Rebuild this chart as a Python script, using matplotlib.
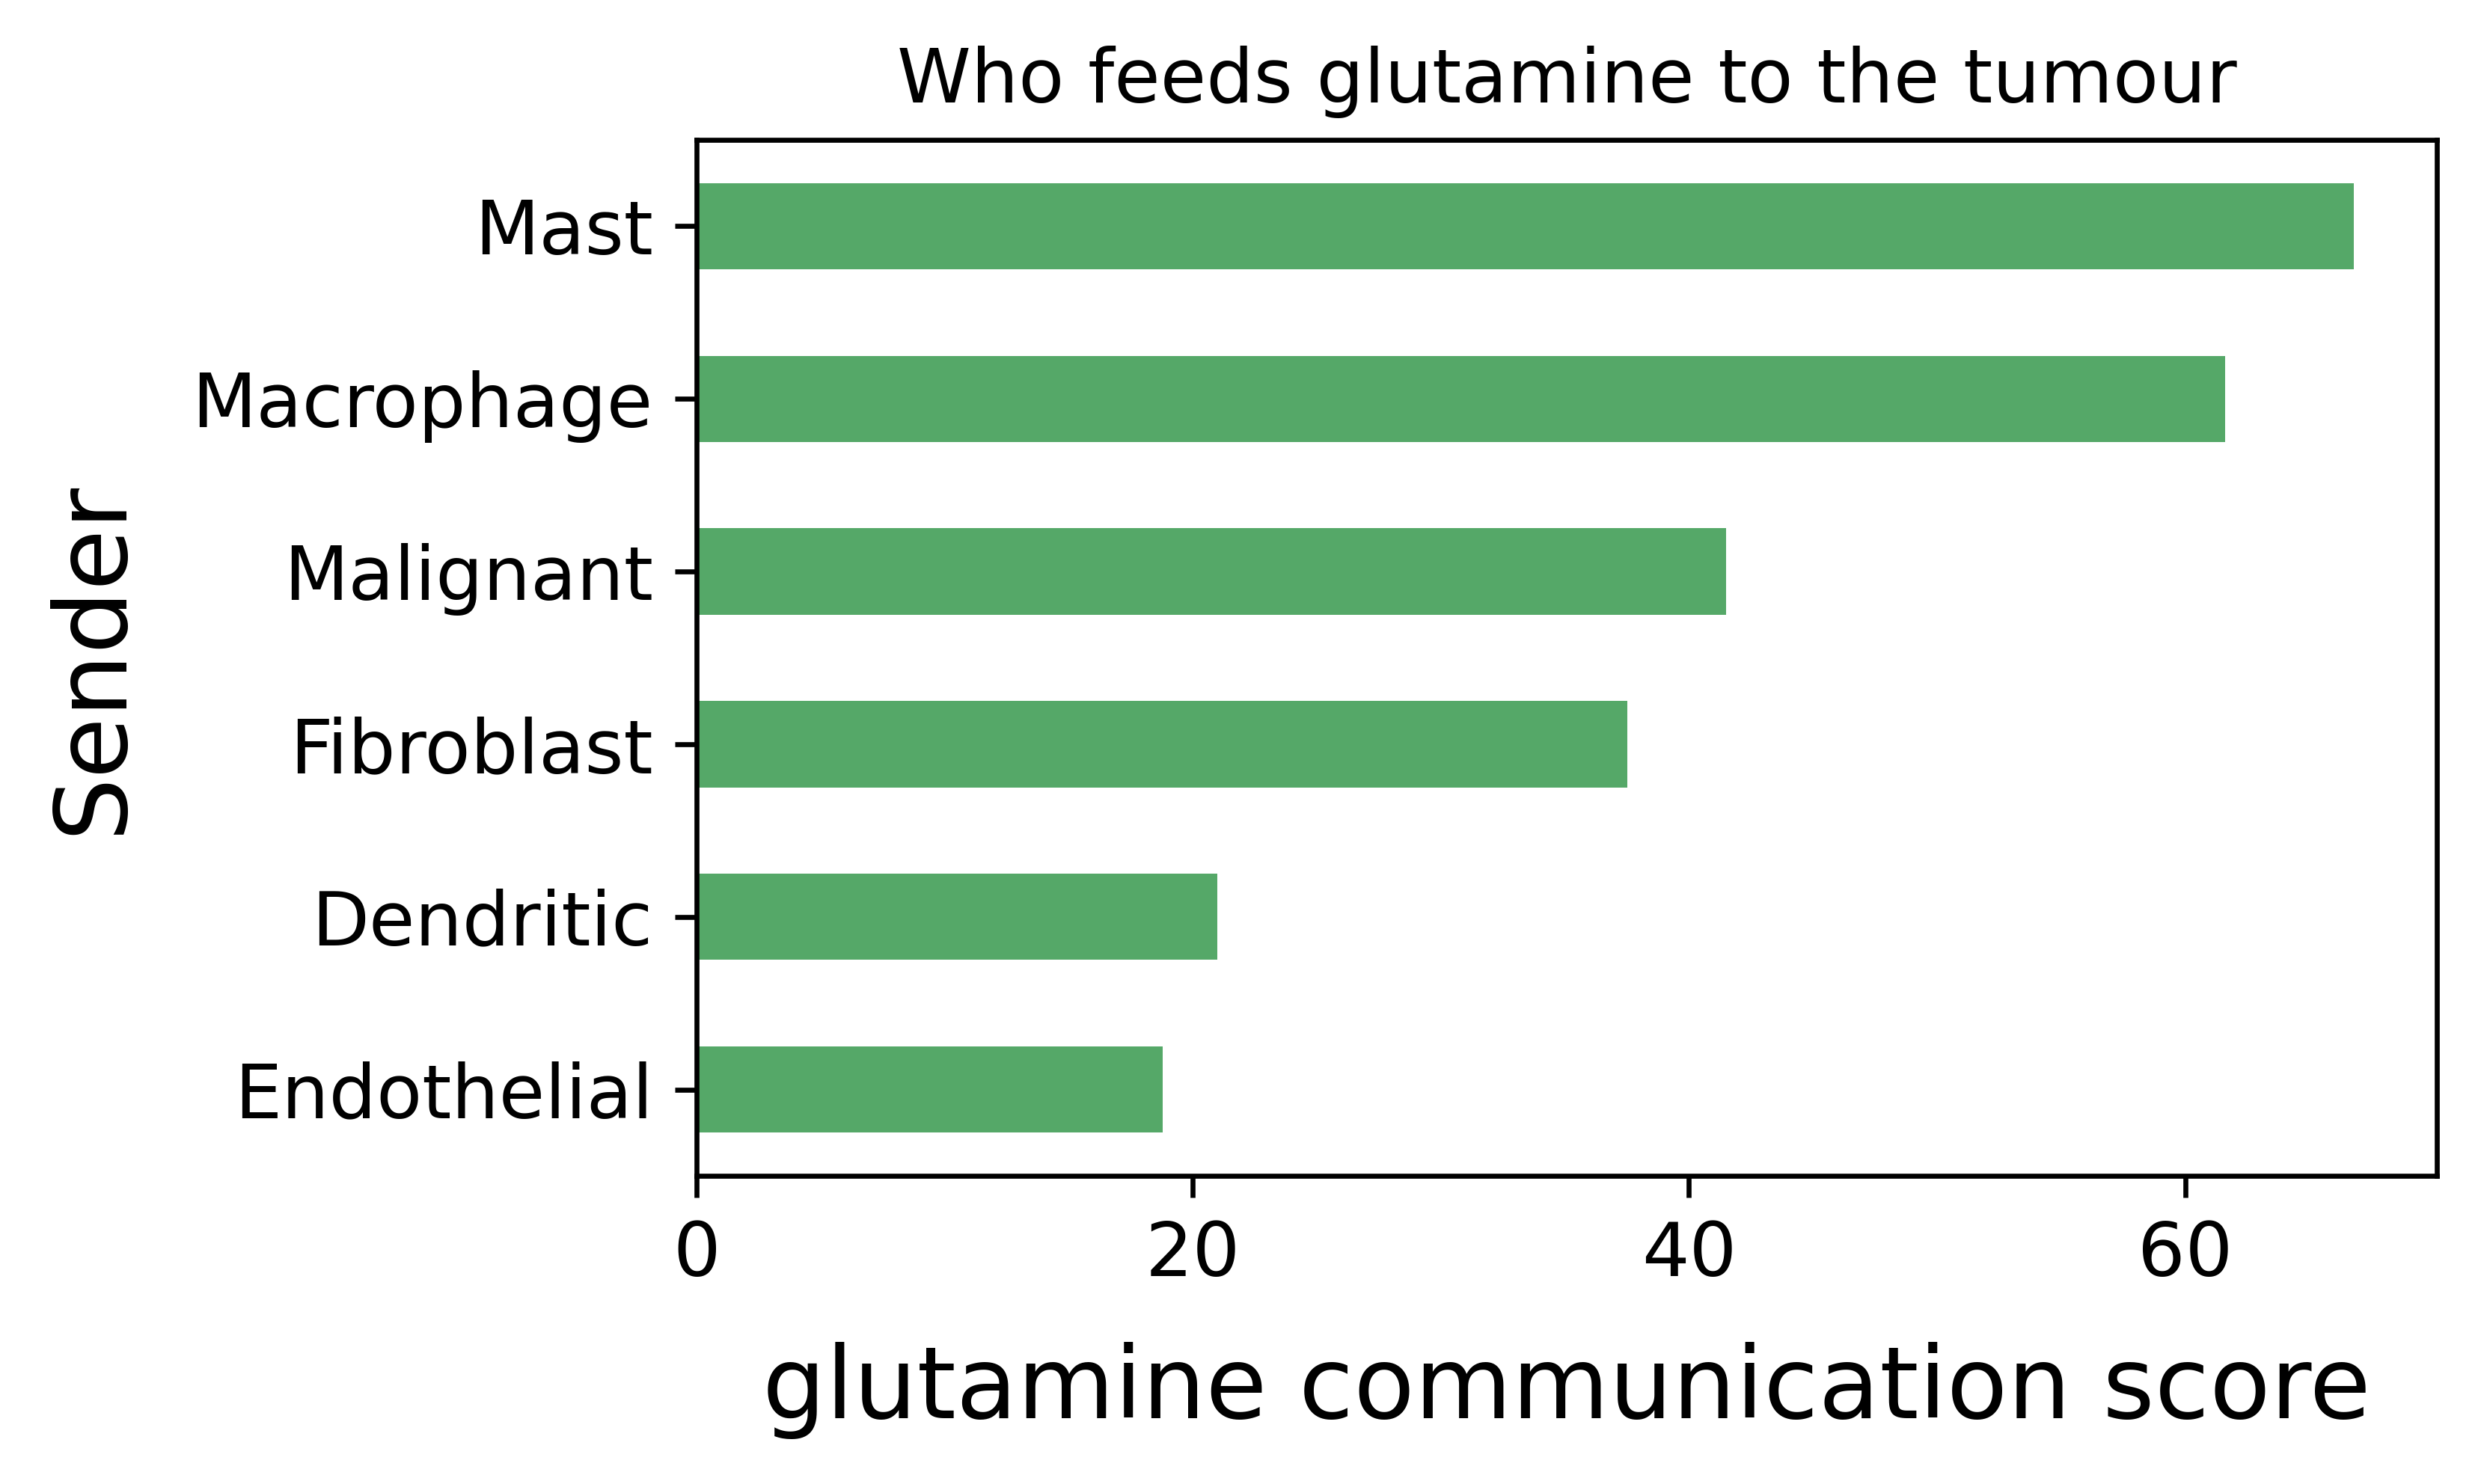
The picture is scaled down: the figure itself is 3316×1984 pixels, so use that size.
import numpy as np
import matplotlib
matplotlib.use("Agg")
import matplotlib.pyplot as plt

# data, bottom to top
senders = ["Endothelial", "Dendritic", "Fibroblast", "Malignant", "Macrophage", "Mast"]
scores = [18.8, 21.0, 37.5, 41.5, 61.6, 66.8]
xticks = [0, 20, 40, 60]

W, H, DPI = 3316, 1984, 600

# figure and axes placed to match the reference
fig = plt.figure(figsize=(W / DPI, H / DPI), dpi=DPI)
ax = fig.add_axes([931 / W, 1 - 1572 / H, (3257 - 931) / W, (1572 - 187) / H])

pos = np.arange(len(senders))
ax.barh(pos, scores, height=0.5, color="#55a868")
ax.set_yticks(pos)
ax.set_yticklabels(senders, fontsize=12)
ax.set_ylim(-0.5, len(senders) - 0.5)
ax.set_xlim(0, max(scores) * 1.05)
ax.set_xticks(xticks)
ax.tick_params(axis="x", labelsize=12)

ax.set_title("Who feeds glutamine to the tumour", fontsize=12)
ax.set_xlabel("glutamine communication score", fontsize=16, labelpad=8)
ax.set_ylabel("Sender", fontsize=16, labelpad=8)

fig.savefig("out.png", dpi=DPI)
